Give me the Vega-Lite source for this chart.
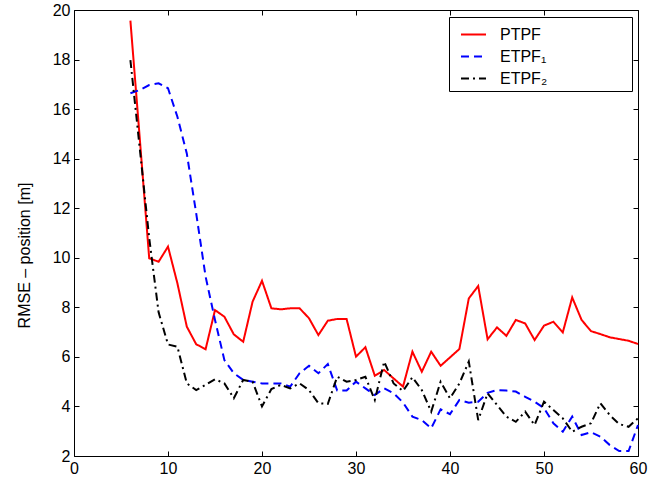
{
  "$schema": "https://vega.github.io/schema/vega-lite/v6.json",
  "width": 564,
  "height": 446,
  "autosize": "none",
  "padding": {"left": 74, "top": 10, "right": 27, "bottom": 25},
  "config": {
    "font": "Liberation Sans",
    "view": {"stroke": null},
    "axis": {
      "grid": false,
      "domainColor": "#000000",
      "domainWidth": 1,
      "tickColor": "#000000",
      "tickWidth": 1,
      "tickSize": -5,
      "labelColor": "#000000",
      "labelFontSize": 16,
      "labelFont": "Liberation Sans",
      "titleFont": "Liberation Sans",
      "titleFontSize": 16,
      "titleFontWeight": "normal",
      "titleColor": "#000000"
    },
    "legend": {
      "labelFont": "Liberation Sans",
      "labelFontSize": 16,
      "labelColor": "#000000"
    }
  },
  "data": {
    "values": [
      {"x": 6, "PTPF": 19.57, "ETPF1": 16.64, "ETPF2": 17.98},
      {"x": 7, "PTPF": 14.8, "ETPF1": 16.77, "ETPF2": 14.4},
      {"x": 8, "PTPF": 9.98, "ETPF1": 16.97, "ETPF2": 10.8},
      {"x": 9, "PTPF": 9.84, "ETPF1": 17.04, "ETPF2": 7.8},
      {"x": 10, "PTPF": 10.45, "ETPF1": 16.84, "ETPF2": 6.5},
      {"x": 11, "PTPF": 8.97, "ETPF1": 15.69, "ETPF2": 6.41},
      {"x": 12, "PTPF": 7.22, "ETPF1": 14.21, "ETPF2": 4.93},
      {"x": 13, "PTPF": 6.51, "ETPF1": 11.79, "ETPF2": 4.66},
      {"x": 14, "PTPF": 6.31, "ETPF1": 9.24, "ETPF2": 4.87},
      {"x": 15, "PTPF": 7.89, "ETPF1": 7.49, "ETPF2": 5.1},
      {"x": 16, "PTPF": 7.62, "ETPF1": 5.87, "ETPF2": 4.93},
      {"x": 17, "PTPF": 6.91, "ETPF1": 5.34, "ETPF2": 4.33},
      {"x": 18, "PTPF": 6.61, "ETPF1": 5.07, "ETPF2": 5.07},
      {"x": 19, "PTPF": 8.23, "ETPF1": 5.0, "ETPF2": 5.0},
      {"x": 20, "PTPF": 9.07, "ETPF1": 4.93, "ETPF2": 4.0},
      {"x": 21, "PTPF": 7.96, "ETPF1": 4.93, "ETPF2": 4.7},
      {"x": 22, "PTPF": 7.92, "ETPF1": 4.93, "ETPF2": 4.87},
      {"x": 23, "PTPF": 7.96, "ETPF1": 4.8, "ETPF2": 4.73},
      {"x": 24, "PTPF": 7.96, "ETPF1": 5.34, "ETPF2": 4.93},
      {"x": 25, "PTPF": 7.56, "ETPF1": 5.64, "ETPF2": 4.66},
      {"x": 26, "PTPF": 6.88, "ETPF1": 5.34, "ETPF2": 4.13},
      {"x": 27, "PTPF": 7.46, "ETPF1": 5.71, "ETPF2": 4.1},
      {"x": 28, "PTPF": 7.53, "ETPF1": 4.64, "ETPF2": 5.2},
      {"x": 29, "PTPF": 7.53, "ETPF1": 4.64, "ETPF2": 5.0},
      {"x": 30, "PTPF": 6.01, "ETPF1": 5.0, "ETPF2": 5.07},
      {"x": 31, "PTPF": 6.39, "ETPF1": 4.73, "ETPF2": 5.2},
      {"x": 32, "PTPF": 5.24, "ETPF1": 4.46, "ETPF2": 4.26},
      {"x": 33, "PTPF": 5.47, "ETPF1": 4.73, "ETPF2": 5.81},
      {"x": 34, "PTPF": 5.13, "ETPF1": 4.53, "ETPF2": 4.93},
      {"x": 35, "PTPF": 4.8, "ETPF1": 4.16, "ETPF2": 4.62},
      {"x": 36, "PTPF": 6.21, "ETPF1": 3.59, "ETPF2": 5.18},
      {"x": 37, "PTPF": 5.4, "ETPF1": 3.45, "ETPF2": 4.66},
      {"x": 38, "PTPF": 6.21, "ETPF1": 3.12, "ETPF2": 3.79},
      {"x": 39, "PTPF": 5.64, "ETPF1": 3.88, "ETPF2": 5.0},
      {"x": 40, "PTPF": 5.98, "ETPF1": 3.69, "ETPF2": 4.33},
      {"x": 41, "PTPF": 6.32, "ETPF1": 4.26, "ETPF2": 4.93},
      {"x": 42, "PTPF": 8.36, "ETPF1": 4.15, "ETPF2": 5.81},
      {"x": 43, "PTPF": 8.86, "ETPF1": 4.19, "ETPF2": 3.45},
      {"x": 44, "PTPF": 6.71, "ETPF1": 4.55, "ETPF2": 4.53},
      {"x": 45, "PTPF": 7.19, "ETPF1": 4.66, "ETPF2": 4.06},
      {"x": 46, "PTPF": 6.85, "ETPF1": 4.64, "ETPF2": 3.59},
      {"x": 47, "PTPF": 7.49, "ETPF1": 4.6, "ETPF2": 3.38},
      {"x": 48, "PTPF": 7.35, "ETPF1": 4.39, "ETPF2": 3.79},
      {"x": 49, "PTPF": 6.68, "ETPF1": 4.19, "ETPF2": 3.25},
      {"x": 50, "PTPF": 7.26, "ETPF1": 3.93, "ETPF2": 4.19},
      {"x": 51, "PTPF": 7.42, "ETPF1": 3.32, "ETPF2": 3.86},
      {"x": 52, "PTPF": 6.99, "ETPF1": 2.98, "ETPF2": 3.52},
      {"x": 53, "PTPF": 8.4, "ETPF1": 3.59, "ETPF2": 2.98},
      {"x": 54, "PTPF": 7.49, "ETPF1": 2.85, "ETPF2": 3.18},
      {"x": 55, "PTPF": 7.04, "ETPF1": 2.96, "ETPF2": 3.32},
      {"x": 56, "PTPF": 6.92, "ETPF1": 2.78, "ETPF2": 4.13},
      {"x": 57, "PTPF": 6.79, "ETPF1": 2.44, "ETPF2": 3.65},
      {"x": 58, "PTPF": 6.72, "ETPF1": 2.2, "ETPF2": 3.29},
      {"x": 59, "PTPF": 6.65, "ETPF1": 2.2, "ETPF2": 3.18},
      {"x": 60, "PTPF": 6.52, "ETPF1": 3.25, "ETPF2": 3.52}
    ]
  },
  "transform": [
    {"fold": ["PTPF", "ETPF1", "ETPF2"], "as": ["series", "y"]}
  ],
  "layer": [
    {
      "mark": {"type": "line", "strokeWidth": 2, "strokeJoin": "miter"},
      "encoding": {
        "x": {
          "field": "x", "type": "quantitative",
          "scale": {"domain": [0, 60], "nice": false, "zero": false},
          "axis": {"orient": "bottom", "values": [0, 10, 20, 30, 40, 50, 60], "title": null, "labelPadding": 9, "labelFlush": false}
        },
        "y": {
          "field": "y", "type": "quantitative",
          "scale": {"domain": [2, 20], "nice": false, "zero": false},
          "axis": {"orient": "left", "values": [2, 4, 6, 8, 10, 12, 14, 16, 18, 20], "title": "RMSE – position [m]", "labelPadding": 9, "labelFlush": false, "titleX": -50, "titleY": 245, "titleAngle": 270, "titleAlign": "center", "titleBaseline": "middle"}
        },
        "color": {
          "field": "series", "type": "nominal",
          "scale": {"domain": ["PTPF", "ETPF1", "ETPF2"], "range": ["#ff0000", "#0000ff", "#000000"]},
          "legend": {"title": null, "orient": "none", "legendX": 375, "legendY": 7, "symbolType": "stroke", "symbolSize": 625, "symbolStrokeWidth": 2, "symbolOffset": 7, "labelOffset": 13, "padding": 4, "rowPadding": 0, "strokeColor": "#000000", "fillColor": "#ffffff", "cornerRadius": 0, "labelLimit": 300,
            "labelExpr": "(datum.label == 'ETPF1' ? 'ETPF₁' : datum.label == 'ETPF2' ? 'ETPF₂' : datum.label) + '\u2002\u2002\u2002\u2002\u2002\u2002\u2002\u2002\u2002\u2002\u200b'"}
        },
        "strokeDash": {
          "field": "series", "type": "nominal",
          "scale": {"domain": ["PTPF", "ETPF1", "ETPF2"], "range": [[1, 0], [8, 5], [8, 4, 2, 4]]},
          "legend": {"title": null, "orient": "none", "legendX": 375, "legendY": 7, "symbolType": "stroke", "symbolSize": 625, "symbolStrokeWidth": 2, "symbolOffset": 7, "labelOffset": 13, "padding": 4, "rowPadding": 0, "strokeColor": "#000000", "fillColor": "#ffffff", "cornerRadius": 0, "labelLimit": 300,
            "labelExpr": "(datum.label == 'ETPF1' ? 'ETPF₁' : datum.label == 'ETPF2' ? 'ETPF₂' : datum.label) + '\u2002\u2002\u2002\u2002\u2002\u2002\u2002\u2002\u2002\u2002\u200b'"}
        }
      }
    },
    {
      "mark": {"type": "point", "opacity": 0},
      "encoding": {
        "x": {
          "field": "x", "type": "quantitative",
          "scale": {"domain": [0, 60], "nice": false, "zero": false},
          "axis": {"orient": "top", "values": [0, 10, 20, 30, 40, 50, 60], "title": null, "labels": false}
        },
        "y": {
          "field": "y", "type": "quantitative",
          "scale": {"domain": [2, 20], "nice": false, "zero": false},
          "axis": {"orient": "right", "values": [2, 4, 6, 8, 10, 12, 14, 16, 18, 20], "title": null, "labels": false}
        }
      }
    }
  ],
  "resolve": {"axis": {"x": "independent", "y": "independent"}}
}
